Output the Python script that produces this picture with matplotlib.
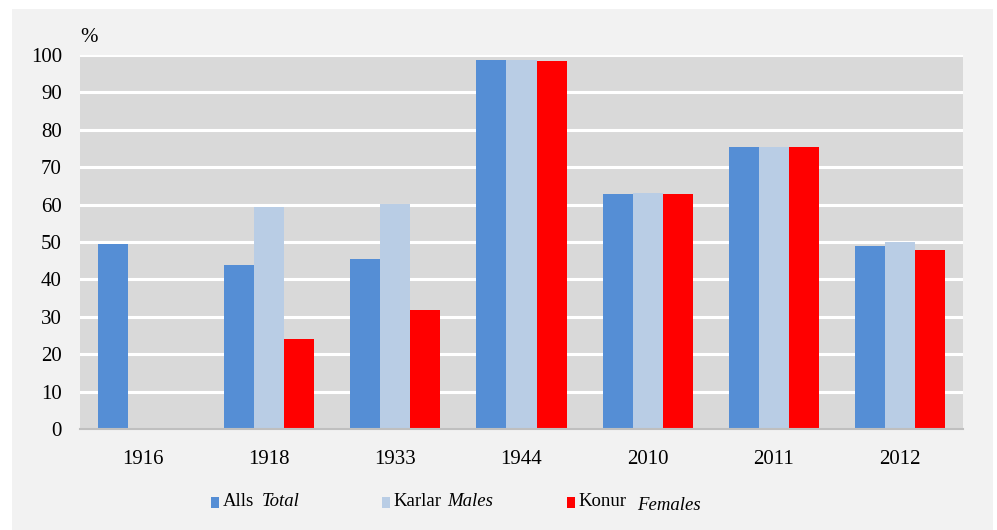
import matplotlib
matplotlib.use("Agg")
import matplotlib.pyplot as plt
from matplotlib.patches import Rectangle
import numpy as np

years = ["1916", "1918", "1933", "1944", "2010", "2011", "2012"]
total = [49.5, 43.8, 45.4, 98.6, 62.8, 75.5, 48.9]
males = [np.nan, 59.4, 60.2, 98.6, 63.1, 75.5, 50.0]
females = [np.nan, 24.1, 31.7, 98.4, 62.8, 75.4, 47.9]
series_is = ["Alls", "Karlar", "Konur"]
series_en = ["Total", "Males", "Females"]
colors = ["#558ed5", "#b9cde5", "#ff0000"]
yticks = [0, 10, 20, 30, 40, 50, 60, 70, 80, 90, 100]

plt.rcParams['font.family'] = ['Liberation Serif', 'DejaVu Serif']

W, H = 997, 530
FS = 15
LFS = 13.5
fig = plt.figure(figsize=(W / 100, H / 100), dpi=100)
fig.patch.set_facecolor("white")
fig.patches.append(Rectangle((12 / W, 0), (993 - 12) / W, (530 - 9) / H,
                             transform=fig.transFigure, facecolor="#f2f2f2",
                             edgecolor="none", zorder=-10))

ax = fig.add_axes([80 / W, 1 - 429 / H, (963 - 80) / W, (429 - 55) / H])
ax.set_facecolor("#d9d9d9")
x = np.arange(len(years))
bw = 0.238
for i, (vals, c) in enumerate(zip([total, males, females], colors)):
    ax.bar(x + (i - 1) * bw, vals, width=bw, color=c, zorder=3)

ax.set_xlim(-0.5, len(years) - 0.5)
ax.set_ylim(0, 100)
ax.set_yticks(yticks)
ax.set_xticks(x)
ax.set_xticklabels(years)
ax.yaxis.grid(True, color="white", linewidth=2.2, zorder=1)
ax.set_axisbelow(True)
for s in ["top", "right", "left"]:
    ax.spines[s].set_visible(False)
ax.spines["bottom"].set_color("#bfbfbf")
ax.spines["bottom"].set_linewidth(1.5)
ax.spines["bottom"].set_zorder(4)
ax.tick_params(axis="both", length=0, labelsize=FS, colors="black")
ax.tick_params(axis="y", pad=13)
ax.tick_params(axis="x", pad=15)

fig.text(80 / W, 1 - 37 / H, "%", fontsize=FS, ha="left", va="center")

# legend
leg_y = 1 - 502 / H
mk_x = [211, 382, 567]
txt_x = [223, 393, 578]
en_x = [262, 447, 637]
en_dy = [0, 0, 3]
for i in range(3):
    fig.patches.append(Rectangle((mk_x[i] / W, leg_y - 5.5 / H), 8 / W, 11 / H,
                                 transform=fig.transFigure, facecolor=colors[i],
                                 edgecolor="none"))
    fig.text(txt_x[i] / W, leg_y, series_is[i], fontsize=LFS,
             ha="left", va="center")
    fig.text(en_x[i] / W, leg_y - en_dy[i] / H, series_en[i],
             fontsize=LFS, style="italic", ha="left", va="center")

fig.savefig("out.png", dpi=100, facecolor=fig.get_facecolor())
